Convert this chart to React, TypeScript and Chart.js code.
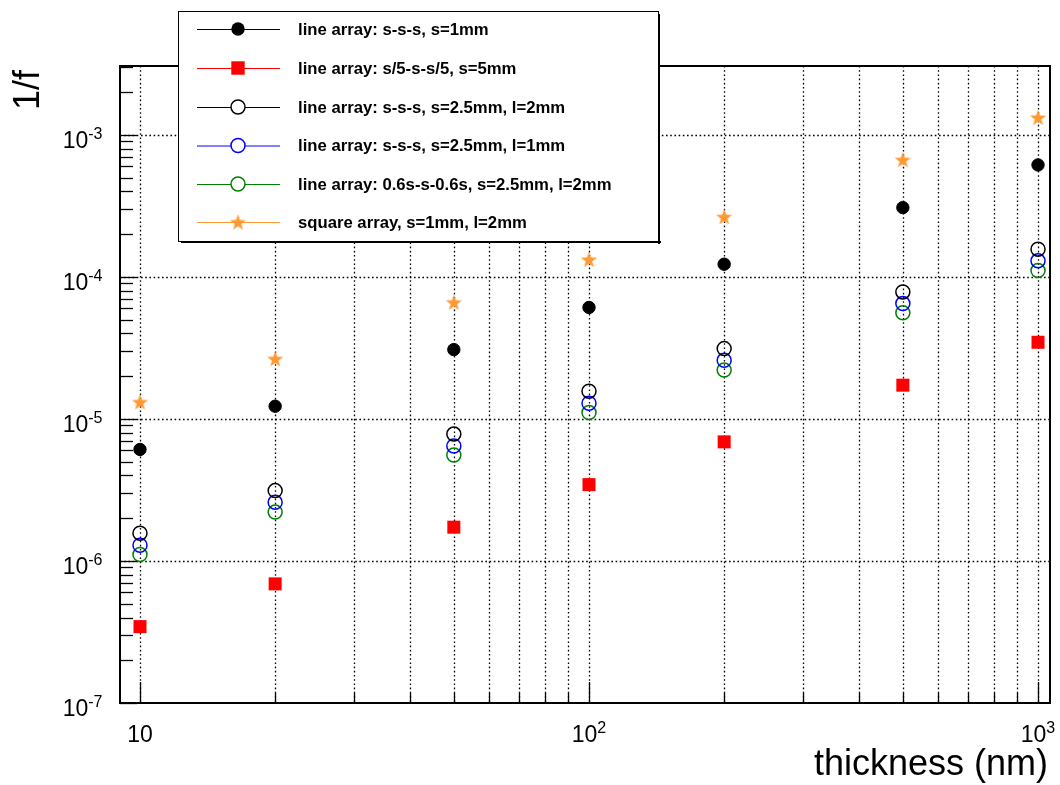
import React, { useEffect, useRef } from 'react';
import { Chart, registerables } from 'chart.js';

Chart.register(...registerables);

// ---- data ----
const thickness = [10, 20, 50, 100, 200, 500, 1000];
const lineSss1mm = [6.1e-6, 1.23e-5, 3.08e-5, 6.1e-5, 1.23e-4, 3.08e-4, 6.15e-4];
const lineS5Sss5 = [3.45e-7, 6.9e-7, 1.73e-6, 3.45e-6, 6.9e-6, 1.73e-5, 3.47e-5];
const lineSss25l2 = [1.57e-6, 3.13e-6, 7.83e-6, 1.57e-5, 3.13e-5, 7.85e-5, 1.57e-4];
const lineSss25l1 = [1.29e-6, 2.59e-6, 6.45e-6, 1.29e-5, 2.59e-5, 6.5e-5, 1.3e-4];
const line06s = [1.11e-6, 2.21e-6, 5.57e-6, 1.11e-5, 2.21e-5, 5.6e-5, 1.11e-4];
const squareArr = [1.32e-5, 2.66e-5, 6.65e-5, 1.33e-4, 2.66e-4, 6.7e-4, 1.33e-3];

const seriesLabels = [
  'line array: s-s-s, s=1mm',
  'line array: s/5-s-s/5, s=5mm',
  'line array: s-s-s, s=2.5mm, l=2mm',
  'line array: s-s-s, s=2.5mm, l=1mm',
  'line array: 0.6s-s-0.6s, s=2.5mm, l=2mm',
  'square array, s=1mm, l=2mm',
];

const xTickValues = [10, 100, 1000];
const xTickBases = ['10', '10', '10'];
const xTickExps = ['', '2', '3'];
const yTickValues = [1e-7, 1e-6, 1e-5, 1e-4, 1e-3];
const yTickExps = ['-7', '-6', '-5', '-4', '-3'];

const xTitle = 'thickness (nm)';
const yTitle = '1/f';

const FONT = '"Liberation Sans", Arial, Helvetica, sans-serif';
const ORANGE = '#ff9933';

function makeStar(color: string, R: number) {
  const c = document.createElement('canvas');
  const s = Math.ceil(R * 2 + 2);
  c.width = s;
  c.height = s;
  const g = c.getContext('2d')!;
  g.fillStyle = color;
  g.beginPath();
  const cy = s / 2 + R * 0.1;
  for (let i = 0; i < 10; i++) {
    const r = i % 2 === 0 ? R : R * 0.4;
    const a = -Math.PI / 2 + (i * Math.PI) / 5;
    g.lineTo(s / 2 + r * Math.cos(a), cy + r * Math.sin(a));
  }
  g.closePath();
  g.fill();
  return c;
}

function drawPow(ctx: CanvasRenderingContext2D, base: string, exp: string, x: number, y: number, align: 'center' | 'right') {
  ctx.save();
  ctx.fillStyle = '#000';
  ctx.textBaseline = 'alphabetic';
  ctx.textAlign = 'left';
  ctx.font = `23px ${FONT}`;
  const wb = ctx.measureText(base).width;
  ctx.font = `16px ${FONT}`;
  const we = exp ? ctx.measureText(exp).width : 0;
  const total = wb + we;
  const x0 = align === 'center' ? x - total / 2 : x - total;
  ctx.font = `23px ${FONT}`;
  ctx.fillText(base, x0, y);
  if (exp) {
    ctx.font = `16px ${FONT}`;
    ctx.fillText(exp, x0 + wb, y - 9);
  }
  ctx.restore();
}

function drawMarker(ctx: CanvasRenderingContext2D, kind: string, color: string, x: number, y: number, star: HTMLCanvasElement) {
  ctx.save();
  if (kind === 'filled') {
    ctx.fillStyle = color;
    ctx.beginPath();
    ctx.arc(x, y, 6.7, 0, Math.PI * 2);
    ctx.fill();
  } else if (kind === 'open') {
    ctx.strokeStyle = color;
    ctx.lineWidth = 1.5;
    ctx.fillStyle = '#fff';
    ctx.beginPath();
    ctx.arc(x, y, 7, 0, Math.PI * 2);
    ctx.fill();
    ctx.stroke();
  } else if (kind === 'square') {
    ctx.fillStyle = color;
    ctx.fillRect(x - 6.7, y - 6.7, 13.4, 13.4);
  } else if (kind === 'star') {
    ctx.drawImage(star, x - star.width / 2, y - star.height / 2);
  }
  ctx.restore();
}

export default function App() {
  const ref = useRef<HTMLCanvasElement>(null);

  useEffect(() => {
    if (!ref.current) return;
    const star = makeStar(ORANGE, 8.5);
    const kinds = ['filled', 'square', 'open', 'open', 'open', 'star'];
    const colors = ['#000000', '#ff0000', '#000000', '#0000ff', '#008000', ORANGE];
    const values = [lineSss1mm, lineS5Sss5, lineSss25l2, lineSss25l1, line06s, squareArr];

    const datasets = values.map((vals, i) => {
      const kind = kinds[i];
      const color = colors[i];
      const base: any = {
        label: seriesLabels[i],
        data: thickness.map((x, j) => ({ x, y: vals[j] })),
        showLine: false,
        borderColor: color,
        backgroundColor: color,
      };
      if (kind === 'filled') {
        Object.assign(base, { pointStyle: 'circle', pointRadius: 6.2, borderWidth: 1 });
      } else if (kind === 'open') {
        Object.assign(base, { pointStyle: 'circle', pointRadius: 7, borderWidth: 1.5, backgroundColor: 'rgba(0,0,0,0)' });
      } else if (kind === 'square') {
        Object.assign(base, { pointStyle: 'rect', pointRadius: 9.2, borderWidth: 0 });
      } else {
        Object.assign(base, { pointStyle: star, pointRadius: 9 });
      }
      return base;
    });

    const decorPlugin = {
      id: 'rootDecor',
      beforeDatasetsDraw(chart: any) {
        const { ctx, chartArea: a, scales } = chart;
        const xs = scales.x;
        const ys = scales.y;
        ctx.save();
        ctx.strokeStyle = '#000';
        ctx.lineWidth = 1.3;
        ctx.setLineDash([1.6, 2.6]);
        // vertical grid lines at every tick
        for (let d = 0; d <= 3; d++) {
          for (let m = 1; m <= 9; m++) {
            const v = m * Math.pow(10, d);
            if (v <= xs.min || v >= xs.max) continue;
            const px = Math.round(xs.getPixelForValue(v)) + 0.5;
            ctx.beginPath();
            ctx.moveTo(px, a.top);
            ctx.lineTo(px, a.bottom);
            ctx.stroke();
          }
        }
        // horizontal grid lines at decades
        yTickValues.forEach((v) => {
          if (v <= ys.min || v >= ys.max) return;
          const py = Math.round(ys.getPixelForValue(v)) + 0.5;
          ctx.beginPath();
          ctx.moveTo(a.left, py);
          ctx.lineTo(a.right, py);
          ctx.stroke();
        });
        ctx.restore();
      },
      afterDatasetsDraw(chart: any) {
        const { ctx, chartArea: a, scales } = chart;
        const xs = scales.x;
        const ys = scales.y;
        ctx.save();
        // ticks
        ctx.strokeStyle = '#000';
        ctx.lineWidth = 1.3;
        ctx.setLineDash([]);
        for (let d = 0; d <= 3; d++) {
          for (let m = 1; m <= 9; m++) {
            const v = m * Math.pow(10, d);
            if (v <= xs.min || v >= xs.max) continue;
            const px = Math.round(xs.getPixelForValue(v)) + 0.5;
            const len = m === 1 ? 21 : 10;
            ctx.beginPath();
            ctx.moveTo(px, a.bottom);
            ctx.lineTo(px, a.bottom - len);
            ctx.stroke();
          }
        }
        for (let d = -7; d <= -3; d++) {
          for (let m = 1; m <= 9; m++) {
            const v = m * Math.pow(10, d);
            if (v < ys.min * 0.999 || v >= ys.max) continue;
            const py = Math.round(ys.getPixelForValue(v)) + 0.5;
            const len = m === 1 ? 17 : 13;
            ctx.beginPath();
            ctx.moveTo(a.left, py);
            ctx.lineTo(a.left + len, py);
            ctx.stroke();
          }
        }
        // frame
        ctx.lineWidth = 2;
        ctx.strokeRect(a.left, a.top, a.right - a.left, a.bottom - a.top);

        // tick labels
        xTickValues.forEach((v, i) => {
          const px = xs.getPixelForValue(v);
          drawPow(ctx, xTickBases[i], xTickExps[i], px, 742, 'center');
        });
        yTickValues.forEach((v, i) => {
          const py = ys.getPixelForValue(v);
          drawPow(ctx, '10', yTickExps[i], 102.5, py + 13, 'right');
        });

        // axis titles
        ctx.fillStyle = '#000';
        ctx.font = `36px ${FONT}`;
        ctx.textAlign = 'right';
        ctx.textBaseline = 'alphabetic';
        ctx.fillText(xTitle, 1048, 775);
        ctx.save();
        ctx.translate(39, 70);
        ctx.rotate(-Math.PI / 2);
        ctx.fillText(yTitle, 0, 0);
        ctx.restore();

        // legend
        const lx = 178, ly = 11, lw = 480, lh = 230;
        ctx.fillStyle = '#fff';
        ctx.fillRect(lx, ly, lw, lh);
        ctx.lineWidth = 1;
        ctx.strokeStyle = '#000';
        ctx.strokeRect(lx + 0.5, ly + 0.5, lw, lh);
        ctx.fillStyle = '#000';
        ctx.fillRect(lx + lw, ly + 3, 2, lh);
        ctx.fillRect(lx + 3, ly + lh, lw, 2);
        const rowY = [29, 68, 107, 145.5, 184, 222];
        seriesLabels.forEach((label, i) => {
          const y = rowY[i];
          ctx.strokeStyle = colors[i];
          ctx.lineWidth = 1.2;
          ctx.beginPath();
          ctx.moveTo(197, y + 0.5);
          ctx.lineTo(280, y + 0.5);
          ctx.stroke();
          drawMarker(ctx, kinds[i], colors[i], 238, y, star);
          ctx.fillStyle = '#000';
          ctx.font = `bold 16.7px ${FONT}`;
          ctx.textAlign = 'left';
          ctx.textBaseline = 'middle';
          ctx.fillText(label, 298, y + 1);
        });
        ctx.restore();
      },
    };

    const chart = new Chart(ref.current, {
      type: 'scatter',
      data: { datasets },
      options: {
        responsive: false,
        animation: false,
        events: [],
        layout: { padding: { left: 120, right: 9, top: 66, bottom: 82 } },
        plugins: { legend: { display: false }, tooltip: { enabled: false }, title: { display: false } },
        scales: {
          x: { type: 'logarithmic', min: 9.026, max: 1063.4, display: false },
          y: { type: 'logarithmic', min: 1e-7, max: 3.06e-3, display: false },
        },
      },
      plugins: [decorPlugin],
    });
    return () => chart.destroy();
  }, []);

  return (
    <div style={{ position: 'absolute', left: 0, top: 0, width: 1060, height: 785, background: '#fff' }}>
      <canvas ref={ref} width={1060} height={785} style={{ width: 1060, height: 785, display: 'block' }} />
    </div>
  );
}
